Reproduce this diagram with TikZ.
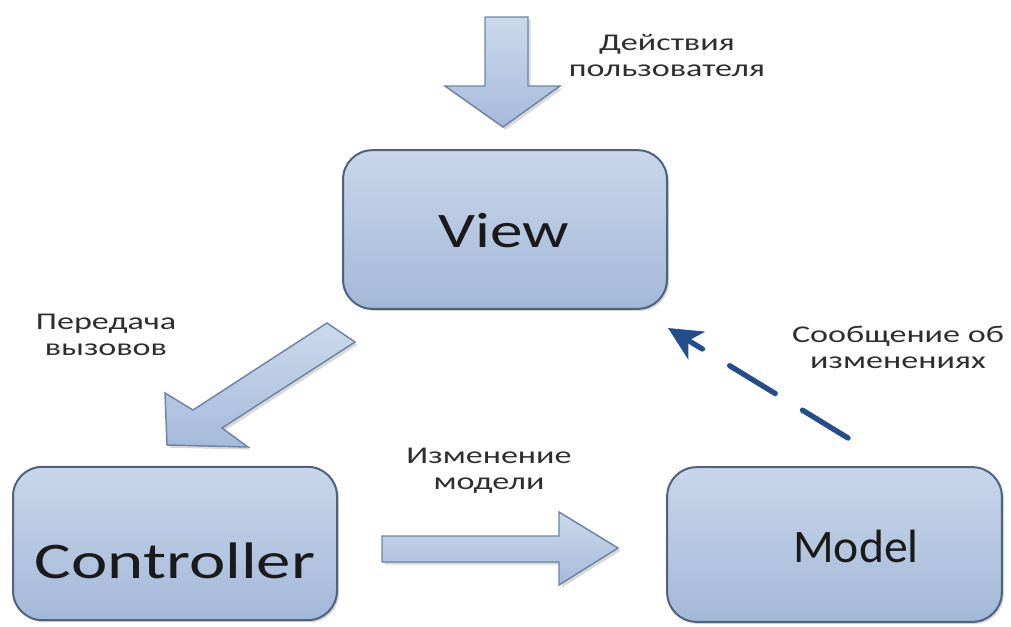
\documentclass[tikz,border=0pt]{standalone}
\usepackage{fontspec}
\setmainfont{Carlito}
\usetikzlibrary{shadows,arrows.meta}
\definecolor{boxtop}{HTML}{C9D6EA}
\definecolor{boxbot}{HTML}{A3B8D8}
\definecolor{boxline}{HTML}{4F6282}
\definecolor{arrtop}{HTML}{CCD9EC}
\definecolor{arrbot}{HTML}{A5BADA}
\definecolor{arrline}{HTML}{6E84A6}
\definecolor{dashblue}{HTML}{234E8A}
\definecolor{bigtxt}{HTML}{1A1A1A}
\definecolor{smalltxt}{HTML}{2E2E2E}
\begin{document}
\begin{tikzpicture}[x=0.75pt,y=-0.75pt,
  mvcbox/.style={draw=boxline, line width=1.5pt, rounded corners=22pt,
    top color=boxtop, bottom color=boxbot,
    drop shadow={shadow xshift=1.5pt, shadow yshift=-1.5pt, opacity=0.35}},
  bigtext/.style={text=bigtxt, inner sep=0pt, anchor=base},
  smalllabel/.style={text=smalltxt, align=center, inner sep=0pt,
    font=\fontsize{18pt}{19.5pt}\selectfont},
  blockarrow/.style={draw=arrline, line width=1.1pt, line join=miter,
    top color=arrtop, bottom color=arrbot,
    drop shadow={shadow xshift=2pt, shadow yshift=-2pt, opacity=0.3}},
  notify/.style={draw=dashblue, line width=4pt, line cap=round,
    dash pattern=on 40pt off 24pt,
    -{Stealth[length=25pt,width=24pt,inset=7pt]}}
]
\useasboundingbox (0,0) rectangle (1011,626);

% boxes
\node[mvcbox, minimum width=243pt, minimum height=119pt] (view) at (505,229.5) {};
\node[mvcbox, minimum width=243pt, minimum height=115pt] (controller) at (175,543.5) {};
\node[mvcbox, minimum width=251pt, minimum height=116pt] (model) at (834.5,544.5) {};

% box texts
\node[bigtext, font=\fontsize{37.3pt}{40pt}\selectfont, xscale=1.31] (viewtxt) at (504,247) {View};
\node[bigtext, font=\fontsize{38.5pt}{40pt}\selectfont, xscale=1.34] (controllertxt) at (175,578) {Controller};
\node[bigtext, font=\fontsize{35pt}{40pt}\selectfont, xscale=1.02] (modeltxt) at (856,562) {Model};

% block arrows
\path[blockarrow] (485,17) -- (528,17) -- (528,86) -- (560,86) -- (503,127) -- (445,86) -- (485,86) -- cycle;
\path[blockarrow] (327,323) -- (355,342) -- (222,428) -- (248,447) -- (167,445) -- (165,393) -- (193,410) -- cycle;
\path[blockarrow] (382,536) -- (559,536) -- (559,512) -- (618,548) -- (559,585) -- (559,562) -- (382,562) -- cycle;

% dashed notification arrow
\coordinate (nStart) at (848,438);
\coordinate (nEnd) at (668,328);
\draw[notify] (nStart) -- (nEnd);

% labels
\node[smalllabel, xscale=1.42] (lblUser) at (667,55) {Действия\\пользователя};
\node[smalllabel, xscale=1.42] (lblCall) at (106,335) {Передача\\вызовов};
\node[smalllabel, xscale=1.42] (lblChange) at (489,471) {Изменение\\модели};
\node[smalllabel, xscale=1.42] (lblNotify) at (898,347) {Сообщение об\\изменениях};
\end{tikzpicture}
\end{document}
